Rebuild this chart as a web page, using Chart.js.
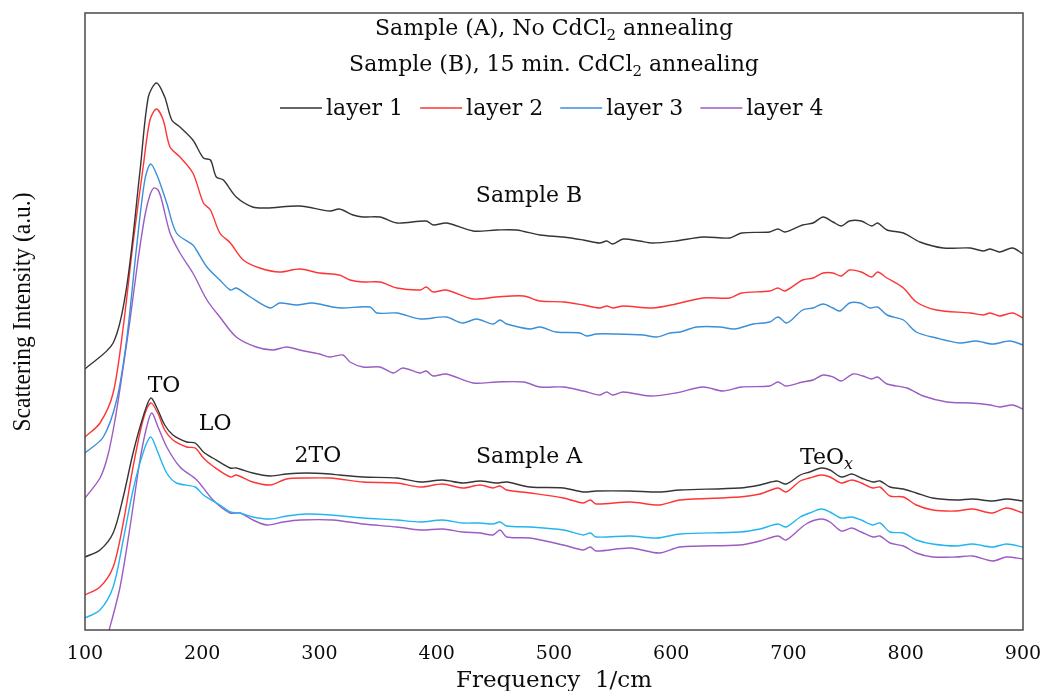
<!DOCTYPE html>
<html>
<head>
<meta charset="utf-8">
<script src="https://cdn.jsdelivr.net/npm/chart.js@4.4.1/dist/chart.umd.min.js"></script>
<style>
    html, body { margin: 0; padding: 0; background: #fff; }
    #wrap { width: 1045px; height: 691px; }
</style>
</head>
<body>
<div id="wrap"><canvas id="ramanChart"></canvas></div>
<script>
// Raman spectra, [frequency 1/cm, intensity a.u.]
const sampleB1 = [[100,261],[124,287],[135.5,343],[147,460],[154,533],[161,547],[168,533],[174,510],[181,503],[192,490],[201,472],[207,470],[212,453],[218,450],[229,433],[243,423],[255,422],[283,424],[309,419],[317,421],[328.6,415],[337,413],[351.6,413],[366,407],[391,409],[397,405],[408.5,407],[431,399],[451,400],[468,400],[488,395],[508,393],[525,390],[539,387],[545,389],[550,386],[559,391],[573,389],[584,387],[604,389],[627,393],[650,392],[660,397],[684,398],[691,401],[697,398],[712,405],[721,407],[729.5,413],[738,408],[745,404],[752,409],[762,409],[771,404],[776,407],[784,400],[798,397],[812,388],[832,382],[855,382],[866,379],[872,381],[880,378],[891,382],[900,376]];
const sampleB2 = [[100,193],[112.8,207],[124,237],[132.6,303],[141,387],[149.6,463],[155.4,510],[161,521],[166.7,510],[172.5,483],[181,473],[192,457],[201,427],[207,420],[215,397],[224,387],[235,370],[249,362],[266,358],[283,361],[300,357],[317,355],[326,350],[337,348],[351.6,348],[366,342],[386,340],[391,343],[397,338],[408,340],[431,331],[451,333],[474,334],[488,329],[508,328],[525,325],[539,322],[545,324],[550,322],[559,324],[584,322],[604,326],[627,332],[650,332],[660,337],[684,339],[691,342],[697,339],[712,350],[721,352],[729.5,357],[738,357],[745,354],[752,360],[762,358],[771,353],[776,358],[784,352],[798,342],[809,328],[826,320],[855,317],[866,315],[872,317],[880,314],[891,317],[900,312]];
const sampleB3 = [[100,177],[115.6,193],[127,230],[135.5,290],[144,383],[151,450],[156,466],[162,453],[169.7,427],[178,397],[192,385],[195,380],[204,363],[215,350],[224,340],[229,342],[241,333],[258,322],[266,327],[280.5,325],[294,327],[311,323],[320,322],[343,323],[349,317],[366,317],[386,311],[408,313],[422,307],[434,311],[448,306],[454,310],[459.6,306],[479.5,301],[488,303],[502,298],[522,297],[528,294],[536,296],[553,296],[576,295],[587.5,293],[599,297],[607.5,298],[621.7,303],[641.6,303],[654,301],[670,306],[684,308],[691,313],[698,307],[702.6,310],[712,320],[721,322],[729.5,326],[738,322],[744,319],[752,327],[761,327],[769.5,322],[776,323],[784,315],[798,310],[809,298],[826,292],[846,287],[860,289],[874,286],[889,289],[900,285]];
const sampleB4 = [[100,132],[112.8,152],[119.6,175],[125.6,210],[131.6,255],[138.4,310],[145.2,370],[151.2,415],[155.4,435],[158.8,442],[162.3,440],[165.4,430],[172.5,397],[181,377],[192,357],[204,330],[215,313],[229,293],[246,283],[260,280],[272,283],[283,280],[300,276],[309,273],[320,275],[326,268],[337,263],[351.6,263],[363,257],[371,262],[386,257],[391,259],[397,254],[408,256],[431,247],[451,248],[474,248],[488,243],[508,243],[525,239],[539,235],[545,238],[550,235],[559,238],[582,234],[604,237],[627,243],[644,239],[660,243],[684,244],[691,248],[698,244],[712,248],[721,250],[729.5,255],[738,253],[745,249],[755,256],[763.6,254],[771,251],[776,253],[784,246],[801,242],[815,234],[835,228],[855,227],[872,225],[880,223],[891,225],[900,221]];
const sampleA1 = [[100,73],[112.8,80],[124,97],[132.6,133],[141,177],[149.5,213],[156,232],[161,223],[168,205],[175,195],[186.7,188],[194,187],[201,178],[209,172],[223.7,162],[229,162],[243,157],[258,154],[272,156],[289,157],[309,156],[317,155],[337,153],[366,152],[386,148],[405,150],[422,147],[437,149],[451,147],[459.6,148],[479.5,143],[508,142],[525,138],[536,139],[565,139],[590,138],[607.5,140],[658.6,142],[675.7,145],[690,149],[698,146],[710,155],[718,158],[728,162],[735.4,160],[745,153],[754,156],[762,152],[772,148],[778,149],[786.6,143],[798,141],[809,137],[823,132],[843,130],[857,131],[874,129],[886,131],[900,129]];
const sampleA2 = [[100,35],[112.8,43],[124,63],[132.6,107],[141,163],[149.5,210],[156,227],[162,217],[168,200],[175,190],[186.7,183],[194,182],[201,172],[209,164],[224,153],[229,155],[243,148],[258,145],[272,151],[289,152],[309,152],[317,151],[337,148],[366,147],[386,143],[405,146],[422,142],[437,145],[448,142],[454,144],[459.6,140],[479.5,137],[508,132],[525,127],[531,130],[536,126],[565,128],[590,125],[607.5,130],[658.6,133],[675.7,136],[691,142],[698,138],[710,149],[718,152],[728,155],[735.4,153],[745,147],[754,150],[762,147],[772,142],[778,143],[786.6,134],[798,133],[809,125],[823,120],[843,119],[857,121],[874,117],[886,122],[900,117]];
const sampleA3 = [[100,12],[112.8,20],[124,43],[132.6,90],[141,140],[149.5,177],[156,193],[162,178],[169.7,157],[178,147],[194,143],[201,135],[215,125],[224,118],[232,117],[243,113],[258,111],[272,114],[289,116],[309,115],[337,112],[366,110],[386,108],[405,110],[422,107],[437,107],[448,106],[454,108],[459.6,104],[479.5,103],[508,100],[525,95],[531,97],[536,93],[565,94],[587.5,92],[607.5,96],[658.6,98],[675.7,101],[691,106],[698,103],[710,113],[718,117],[728,121],[735.4,118],[745,112],[754,113],[762,110],[772,105],[778,107],[786.6,98],[798,97],[809,90],[823,86],[843,84],[857,86],[874,83],[886,86],[900,83]];
const sampleA4 = [[100,-90],[112,-35],[121.3,3],[129.9,43],[138.4,103],[146.9,170],[152.6,203],[156.9,217],[162.3,203],[169.7,183],[181,163],[195.3,150],[209.2,130],[223.7,117],[232.2,117],[243.3,110],[255,105],[268.9,108],[283.4,110],[311.5,110],[337,106],[366,103],[386,100],[405,101],[422,98],[437,97],[448,95],[454,100],[459.6,93],[479.5,92],[508,85],[525,80],[531,83],[536,79],[565,82],[590,77],[607.5,83],[658.6,85],[675.7,89],[691,94],[698,90],[715,106],[728,111],[735.4,108],[745,99],[754,102],[762,98],[772,93],[778,94],[786.6,87],[798,84],[809,77],[823,73],[843,73],[857,74],[874,69],[886,73],[900,71]];

const seriesData = [sampleB1, sampleB2, sampleB3, sampleB4, sampleA1, sampleA2, sampleA3, sampleA4];
const seriesLabels = ['B layer 1', 'B layer 2', 'B layer 3', 'B layer 4', 'A layer 1', 'A layer 2', 'A layer 3', 'A layer 4'];
const legendLabels = ['layer 1', 'layer 2', 'layer 3', 'layer 4'];
const xTicks = [100, 200, 300, 400, 500, 600, 700, 800, 900];

const lineColors = ['#353535', '#ff3434', '#3a8fd8', '#9b5cc4', '#353535', '#ff3434', '#22b5f0', '#9b5cc4'];

const serif = 'DejaVu Serif';
const ink = '#0c0c0c';

// text parts: [text, kind] -> kind 'sub' = subscript, 'subi' = italic subscript
const titleLines = [
    [['Sample (A), No CdCl'], ['2', 'sub'], [' annealing']],
    [['Sample (B), 15 min. CdCl'], ['2', 'sub'], [' annealing']]
];
const notes = [
    { parts: [['TO']], f: 167.4, v: 238 },
    { parts: [['LO']], f: 211, v: 200 },
    { parts: [['2TO']], f: 298.7, v: 168 },
    { parts: [['Sample A']], f: 478.7, v: 167 },
    { parts: [['Sample B']], f: 478.7, v: 428 },
    { parts: [['TeO'], ['x', 'subi']], f: 732.4, v: 166 }
];

function partFont(kind, size) {
    if (kind === 'sub') return Math.round(size * 0.68) + 'px "' + serif + '"';
    if (kind === 'subi') return 'italic ' + Math.round(size * 0.72) + 'px "' + serif + '"';
    return size + 'px "' + serif + '"';
}

function drawParts(ctx, parts, cx, baseline, size) {
    let total = 0;
    parts.forEach(p => {
        ctx.font = partFont(p[1], size);
        total += ctx.measureText(p[0]).width;
    });
    let x = cx - total / 2;
    ctx.textAlign = 'left';
    ctx.textBaseline = 'alphabetic';
    parts.forEach(p => {
        ctx.font = partFont(p[1], size);
        const dy = p[1] ? size * 0.22 : 0;
        ctx.fillText(p[0], x, baseline + dy);
        x += ctx.measureText(p[0]).width;
    });
}

const decorPlugin = {
    id: 'decor',
    afterDraw(chart) {
        const ctx = chart.ctx;
        const area = chart.chartArea;
        const xs = chart.scales.x;
        const ys = chart.scales.y;
        const midX = (area.left + area.right) / 2;

        ctx.save();
        // frame
        ctx.strokeStyle = '#4a4a4a';
        ctx.lineWidth = 1.5;
        ctx.strokeRect(area.left, area.top, area.right - area.left, area.bottom - area.top);

        ctx.fillStyle = ink;
        drawParts(ctx, titleLines[0], midX, area.top + 22, 22);
        drawParts(ctx, titleLines[1], midX, area.top + 58, 22);

        // legend
        ctx.font = '22px "' + serif + '"';
        let lx = 280;
        const ly = area.top + 95;
        legendLabels.forEach((lab, i) => {
            ctx.strokeStyle = lineColors[i];
            ctx.lineWidth = 1.4;
            ctx.beginPath();
            ctx.moveTo(lx, ly);
            ctx.lineTo(lx + 42, ly);
            ctx.stroke();
            ctx.fillStyle = ink;
            ctx.textAlign = 'left';
            ctx.textBaseline = 'alphabetic';
            ctx.fillText(lab, lx + 46, ly + 7);
            lx += 46 + ctx.measureText(lab).width + 17;
        });

        // peak / sample labels
        ctx.fillStyle = ink;
        notes.forEach(n => {
            drawParts(ctx, n.parts, xs.getPixelForValue(n.f), ys.getPixelForValue(n.v), 22);
        });

        // y axis title, narrow serif as in the figure
        const yTitle = 'Scattering Intensity (a.u.)';
        ctx.font = '26px "Liberation Serif"';
        const w = ctx.measureText(yTitle).width;
        ctx.translate(23, 312);
        ctx.rotate(-Math.PI / 2);
        ctx.scale(239 / w, 1);
        ctx.textAlign = 'center';
        ctx.textBaseline = 'middle';
        ctx.fillText(yTitle, 0, 0);
        ctx.restore();
    }
};

window.onload = function () {
    const ctx = document.getElementById('ramanChart').getContext('2d');

    new Chart(ctx, {
        type: 'line',
        data: {
            datasets: seriesData.map((pts, i) => ({
                label: seriesLabels[i],
                data: pts.map(p => ({ x: p[0], y: p[1] })),
                borderColor: lineColors[i],
                borderWidth: 1.4,
                pointRadius: 0,
                fill: false,
                tension: 0.3
            }))
        },
        plugins: [decorPlugin],
        options: {
            responsive: true,
            maintainAspectRatio: false,
            animation: false,
            layout: {
                padding: { left: 85, right: 22, top: 13, bottom: 0 }
            },
            plugins: {
                legend: { display: false },
                tooltip: { enabled: false },
                title: { display: false }
            },
            scales: {
                x: {
                    type: 'linear',
                    min: 100,
                    max: 900,
                    afterBuildTicks: s => { s.ticks = xTicks.map(v => ({ value: v })); },
                    afterFit: s => {
                        s.height = 61;
                        s.paddingLeft = 0;
                        s.paddingRight = 0;
                    },
                    grid: { display: false, drawTicks: false },
                    border: { display: false },
                    ticks: {
                        padding: 13,
                        maxRotation: 0,
                        autoSkip: false,
                        color: ink,
                        font: { family: serif, size: 19 }
                    },
                    title: {
                        display: true,
                        text: 'Frequency  1/cm',
                        color: ink,
                        font: { family: serif, size: 23 },
                        padding: { top: 0, bottom: -4 }
                    }
                },
                y: {
                    type: 'linear',
                    min: 0,
                    max: 617,
                    display: false
                }
            }
        }
    });
};
</script>
</body>
</html>
